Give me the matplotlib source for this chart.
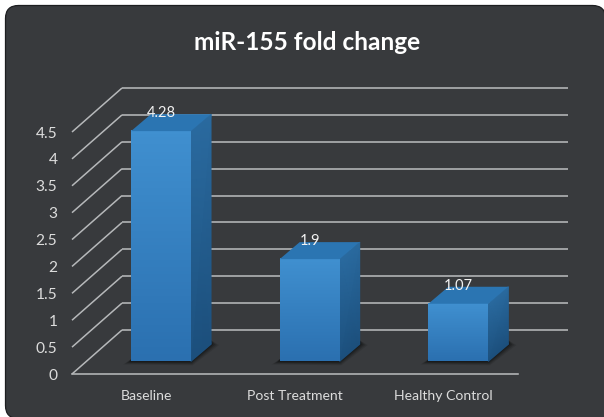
import numpy as np
import matplotlib
matplotlib.use("Agg")
import matplotlib.pyplot as plt
from matplotlib.patches import FancyBboxPatch, Polygon, Rectangle
from matplotlib.colors import LinearSegmentedColormap
from matplotlib.transforms import Affine2D

categories = ["Baseline", "Post Treatment", "Healthy Control"]
values = [4.28, 1.9, 1.07]
value_labels = ["4.28", "1.9", "1.07"]
y_ticks = [0, 0.5, 1, 1.5, 2, 2.5, 3, 3.5, 4, 4.5]
y_tick_labels = ["0", "0.5", "1", "1.5", "2", "2.5", "3", "3.5", "4", "4.5"]
title = "miR-155 fold change"

W, H = 604, 417
plt.rcParams['font.family'] = ['Lato', 'DejaVu Sans']
fig = plt.figure(figsize=(W / 100, H / 100), dpi=100, facecolor='white')

# card
CARD = '#383a3d'
card = FancyBboxPatch((5.5, -1.5), W - 4, H - 4, boxstyle="round,pad=0,rounding_size=13",
                      facecolor=CARD, edgecolor='#1d1e20', linewidth=0.9, zorder=-5)
fig.add_artist(card)
card.set_transform(Affine2D())
corner = Rectangle((W - 30, -2), 32, 32, facecolor=CARD, edgecolor='none', zorder=-4)
fig.add_artist(corner)
corner.set_transform(Affine2D())

L, R, T, B = 72, 518, 132, 374
ax = fig.add_axes([L / W, 1 - B / H, (R - L) / W, (B - T) / H])
ax.patch.set_alpha(0)
ax.set_xlim(-0.5, 2.5)
ax.set_ylim(0, 4.5)
PX = 3.0 / (R - L)     # category units per pixel
PY = 4.5 / (B - T)     # value units per pixel

for s in ['top', 'left', 'right']:
    ax.spines[s].set_visible(False)
GRID = '#b6b8ba'
ax.spines['bottom'].set_color(GRID)
ax.spines['bottom'].set_linewidth(1.15)

ax.set_xticks(range(len(categories)))
ax.set_xticklabels(categories)
ax.set_yticks(y_ticks)
ax.set_yticklabels(y_tick_labels)
ax.tick_params(axis='x', length=0, pad=11.5, labelsize=10.1, labelcolor='#dcdcdc')
ax.tick_params(axis='y', length=0, pad=10.5, labelsize=11.2, labelcolor='#dcdcdc')

# floor & wall gridlines
BACK_X, BACK_Y = 50 * PX, 44 * PY
for v in y_ticks:
    ax.plot([-0.5, -0.5 + BACK_X], [v, v + BACK_Y], color=GRID, lw=1.1, clip_on=False, zorder=1,
            solid_capstyle='butt')
    ax.plot([-0.5 + BACK_X, 2.5 + BACK_X], [v + BACK_Y, v + BACK_Y], color=GRID, lw=1.15,
            clip_on=False, zorder=1, solid_capstyle='butt')

# bars
OFF_X, OFF_Y = 14.7 * PX, 12.7 * PY
BAR_W = 60 * PX
DX, DY = 20 * PX, 17 * PY
front_cmap = LinearSegmentedColormap.from_list('f', ['#2b70b0', '#4090d0'])
side_cmap = LinearSegmentedColormap.from_list('s', ['#1c4f7c', '#2a6a9f'])

for i, v in enumerate(values):
    x0 = i + OFF_X - BAR_W / 2
    x1 = x0 + BAR_W
    y0 = OFF_Y
    y1 = OFF_Y + v
    # soft shadow: stacked translucent floor polygons
    for g, a in [(8, 0.10), (6, 0.14), (4, 0.18), (2, 0.25)]:
        ax.add_patch(Polygon([(x0 - g * PX, y0 - 0.4 * g * PY), (x1 + 0.2 * g * PX, y0 - 0.5 * g * PY),
                              (x1 + DX + g * PX, y0 + DY - 0.1 * g * PY), (x1 + DX, y0 + DY + 4 * PY),
                              (x0, y0 + 2 * PY)],
                             closed=True, facecolor='black', edgecolor='none', alpha=a, zorder=2,
                             clip_on=False))
    # front face
    ax.bar(i + OFF_X, v, BAR_W, bottom=OFF_Y, color='#3580c0', zorder=3, clip_on=False)
    grad = np.linspace(1, 0, 64).reshape(-1, 1)
    ax.imshow(grad, extent=(x0, x1, y0, y1), aspect='auto', cmap=front_cmap, zorder=3.1,
              clip_on=False, vmin=0, vmax=1, origin='upper')
    # side face
    xs = np.array([[x1, x1 + DX], [x1, x1 + DX]])
    ys = np.array([[y0, y0 + DY], [y1, y1 + DY]])
    ax.pcolormesh(xs, ys, np.array([[0.0, 0.0], [1.0, 1.0]]), shading='gouraud', cmap=side_cmap,
                  vmin=0, vmax=1, zorder=3, clip_on=False)
    # top face
    ax.add_patch(Polygon([(x0, y1), (x1, y1), (x1 + DX, y1 + DY), (x0 + DX, y1 + DY)], closed=True,
                         facecolor='#2b75b2', edgecolor='none', zorder=3.2, clip_on=False))
    ax.text(i + OFF_X, y1 + 18 * PY, value_labels[i], ha='center', va='center', color='#f2f2f2',
            fontsize=10.6, zorder=5, clip_on=False)

ax.set_xlim(-0.5, 2.5)
ax.set_ylim(0, 4.5)

fig.text(307 / W, 1 - 42 / H, title, ha='center', va='center', color='white', fontsize=17.6,
         fontweight='bold')

fig.savefig('out.png', dpi=100, facecolor='white')
